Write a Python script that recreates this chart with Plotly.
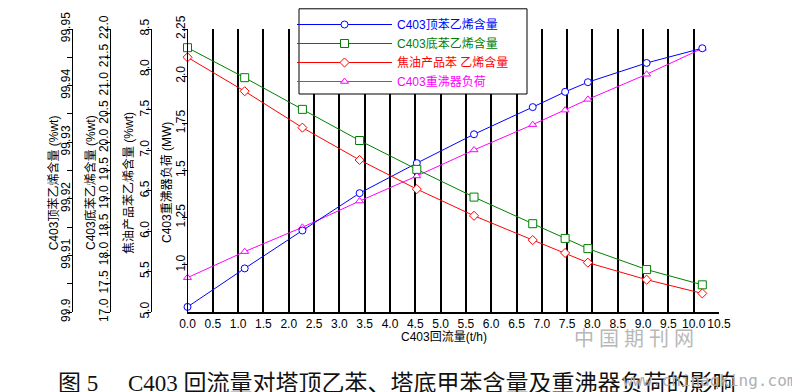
import plotly.graph_objects as go

# ---------------- data ----------------
reflux_flow = [0.0, 1.13, 2.27, 3.40, 4.53, 5.66, 6.82, 7.46, 7.91, 9.07, 10.17]
top_eb = [99.9009, 99.9077, 99.9144, 99.9210, 99.9263, 99.9314, 99.9362, 99.9389, 99.9406, 99.9440, 99.9466]
bottom_eb = [21.67, 21.14, 20.58, 20.03, 19.52, 19.03, 18.56, 18.30, 18.12, 17.75, 17.48]
tar_eb = [8.15, 7.73, 7.28, 6.88, 6.52, 6.19, 5.89, 5.73, 5.61, 5.40, 5.23]
reboiler_duty = [0.932, 1.070, 1.199, 1.338, 1.471, 1.609, 1.743, 1.820, 1.877, 2.010, 2.147]

series_names = ["C403顶苯乙烯含量", "C403底苯乙烯含量", "焦油产品苯 乙烯含量", "C403重沸器负荷"]

x_ticks = [i * 0.5 for i in range(22)]
x_ticklabels = ["%.1f" % v for v in x_ticks]
top_ticks = [99.9 + i * 0.005 for i in range(11)]
top_ticklabels = ["99.9", "", "99.91", "", "99.92", "", "99.93", "", "99.94", "", "99.95"]
bottom_ticks = [17.0 + i * 0.5 for i in range(11)]
bottom_ticklabels = ["%.1f" % v for v in bottom_ticks]
tar_ticks = [5.0 + i * 0.5 for i in range(8)]
tar_ticklabels = ["%.1f" % v for v in tar_ticks]
duty_ticks = [1.0, 1.25, 1.5, 1.75, 2.0, 2.25]
duty_ticklabels = ["1.0", "1.25", "1.5", "1.75", "2.0", "2.25"]

axis_titles = ["C403顶苯乙烯含量 (%wt)", "C403底苯乙烯含量 (%wt)", "焦油产品苯乙烯含量 (%wt)", "C403重沸器负荷 (MW)"]
x_title = "C403回流量(t/h)"
caption_a = "图 5"
caption_b = "C403 回流量对塔顶乙苯、塔底甲苯含量及重沸器负荷的影响"

# ---------------- style ----------------
# page body has an 8px default margin, so the figure is 792x384 and offset by 8px
OFF = 8
W, H = 800 - OFF, 392 - OFF
FONT = "Liberation Sans, Arial, Noto Sans CJK SC, sans-serif"
BLUE, GREEN, RED, MAG = "#0000FF", "#008000", "#FF0000", "#FF00FF"

def px(x):
    return (x - OFF) / W

def py(y):
    return 1 - (y - OFF) / H

fig = go.Figure()

def add(y, axis, color, symbol, size, name):
    fig.add_trace(go.Scatter(
        x=reflux_flow, y=y, yaxis=axis, mode="lines+markers",
        name="<span style='color:%s'>%s</span>" % (color, name),
        line=dict(color=color, width=1),
        marker=dict(symbol=symbol, size=size, color="white", line=dict(color=color, width=1)),
        cliponaxis=False,
    ))

add(top_eb, "y2", BLUE, "circle", 7, series_names[0])
add(bottom_eb, "y3", GREEN, "square", 8, series_names[1])
add(tar_eb, "y4", RED, "diamond", 7, series_names[2])
add(reboiler_duty, "y", MAG, "triangle-up", 7, series_names[3])

common_y = dict(showline=True, linecolor="black", linewidth=1, ticks="outside", ticklen=5,
                tickcolor="black", tickangle=-90, showgrid=False, zeroline=False, automargin=False,
                ticklabelstandoff=-8,
                tickfont=dict(family=FONT, size=12, color="black"), tickmode="array")

fig.update_layout(
    width=W, height=H,
    margin=dict(l=0, r=0, t=0, b=0, autoexpand=False),
    paper_bgcolor="white", plot_bgcolor="white",
    font=dict(family=FONT, size=12, color="black"),
    xaxis=dict(domain=[px(187.5), px(719)], range=[0, 10.5], tickmode="array",
               tickvals=x_ticks, ticktext=x_ticklabels, tickangle=0, showgrid=True, gridcolor="black",
               gridwidth=2, showline=True, linecolor="black", linewidth=2, zeroline=False,
               ticks="", automargin=False,
               tickfont=dict(family=FONT, size=12, color="black"), anchor="y"),
    yaxis=dict(domain=[py(312), py(29)], range=[0.75, 2.25], anchor="x",
               tickvals=duty_ticks, ticktext=duty_ticklabels, **common_y),
    yaxis2=dict(overlaying="y", anchor="free", position=px(72), range=[99.9, 99.95],
                tickvals=top_ticks, ticktext=top_ticklabels, **common_y),
    yaxis3=dict(overlaying="y", anchor="free", position=px(110), range=[17.0, 22.0],
                tickvals=bottom_ticks, ticktext=bottom_ticklabels, **common_y),
    yaxis4=dict(overlaying="y", anchor="free", position=px(150.7), range=[5.0, 8.5],
                tickvals=tar_ticks, ticktext=tar_ticklabels, **common_y),
    legend=dict(x=px(292), y=py(10), xanchor="left", yanchor="top", bgcolor="rgba(0,0,0,0)",
                borderwidth=0, font=dict(family=FONT, size=12),
                itemwidth=95, tracegroupgap=0),
)

# legend frame
fig.add_shape(type="rect", xref="paper", yref="paper", x0=px(299), x1=px(527), y0=py(94), y1=py(8.8),
              fillcolor="white", line=dict(color="black", width=1), layer="above")

# axis titles
title_x = [53.3, 90, 128, 167]
for tx, t in zip(title_x, axis_titles):
    fig.add_annotation(x=px(tx), y=py(183), xref="paper", yref="paper", text=t, textangle=-90,
                       showarrow=False, font=dict(family=FONT, size=12, color="black"),
                       xanchor="center", yanchor="middle")

fig.add_annotation(x=px(444), y=py(337), xref="paper", yref="paper", text=x_title, showarrow=False,
                   font=dict(family=FONT, size=12, color="black"), xanchor="center", yanchor="middle")

SERIF = "Liberation Serif, Times New Roman, Noto Sans CJK SC, serif"
fig.add_annotation(x=px(56), y=py(383), xref="paper", yref="paper", text=caption_a, showarrow=False,
                   font=dict(family=SERIF, size=23, color="#111111"), xanchor="left", yanchor="middle")
fig.add_annotation(x=px(126), y=py(383), xref="paper", yref="paper", text=caption_b, showarrow=False,
                   font=dict(family=SERIF, size=23, color="#111111"), xanchor="left", yanchor="middle")

# watermark
fig.add_annotation(x=px(634), y=py(339), xref="paper", yref="paper", text="中 国 期 刊 网", showarrow=False,
                   font=dict(family=SERIF, size=20, color="#b8b8b8"), xanchor="center", yanchor="middle")
fig.add_annotation(x=px(798), y=py(380), xref="paper", yref="paper", text="www.chinaqking.com", showarrow=False,
                   font=dict(family="DejaVu Sans Mono, monospace", size=16, color="#b0b0b0"),
                   xanchor="right", yanchor="middle")

fig.write_html("out.html")
